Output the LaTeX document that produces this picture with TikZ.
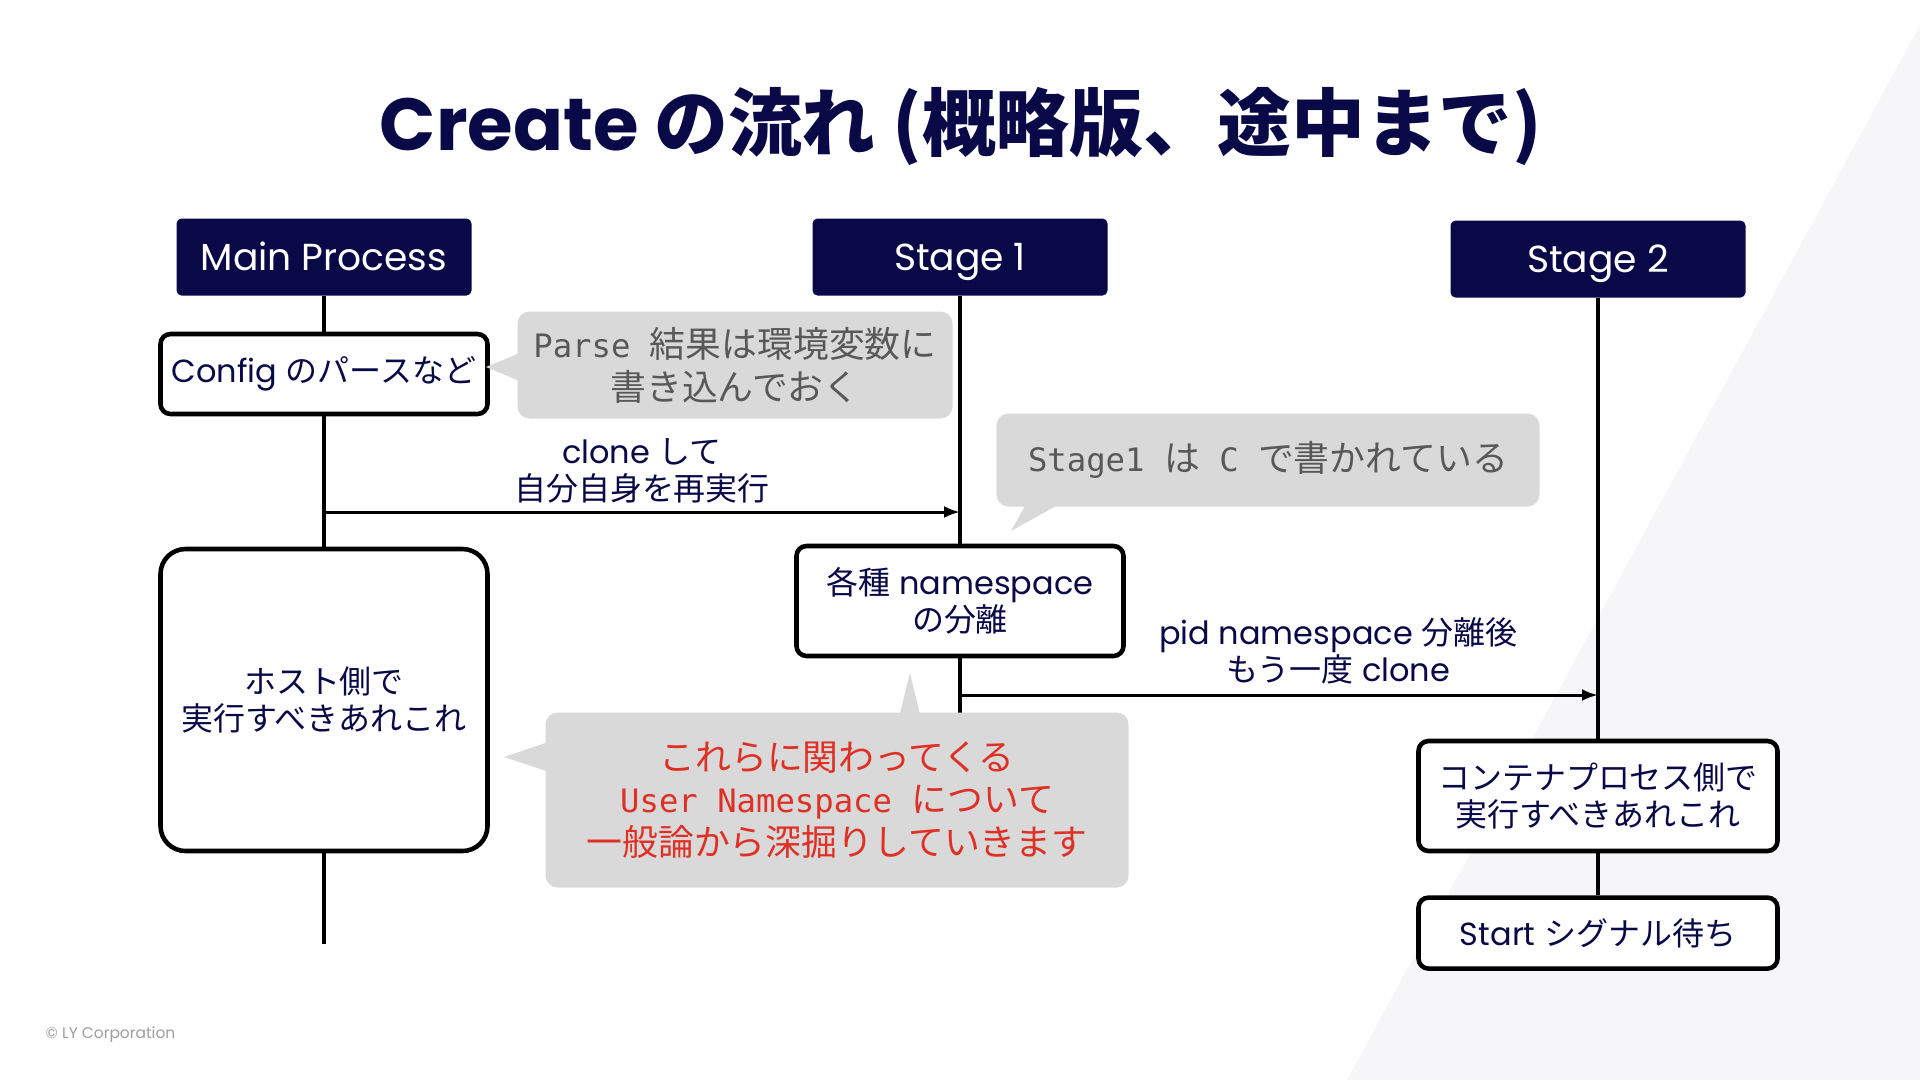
\documentclass[tikz,border=0pt]{standalone}
\usepackage{fontspec}
\setmainfont{Poppins}
\newfontfamily\jpf{Noto Sans CJK JP}
\newfontfamily\monof[Scale=0.9]{DejaVu Sans Mono}
\usepackage{xcolor}
\usetikzlibrary{arrows.meta,positioning}
\definecolor{navy}{RGB}{9,9,72}
\definecolor{notegray}{RGB}{217,217,217}
\definecolor{notetext}{RGB}{88,88,88}
\definecolor{alertred}{RGB}{222,48,36}
\definecolor{bgshade}{RGB}{246,246,248}

\begin{document}
\begin{tikzpicture}[x=0.1mm,y=-0.1mm,
 hd/.style={fill=navy,text=white,rounded corners=0.5mm,minimum width=29.5mm,minimum height=7.7mm,inner sep=0pt,text height=7.4pt,text depth=0pt,font=\fontsize{10.7}{13}\selectfont},
 b/.style={draw=black,line width=1.3pt,rounded corners=1mm,fill=white,text=navy,align=center,minimum width=32.7mm,inner sep=0pt,font=\fontsize{9.1}{10.4}\selectfont},
 nt/.style={fill=notegray,rounded corners=1.2mm,align=center,inner sep=0pt,text=notetext,font=\fontsize{10.2}{12.2}\selectfont},
 lbl/.style={text=navy,align=center,inner sep=0pt,font=\fontsize{9.1}{10.6}\selectfont},
 ll/.style={line width=1.1pt},
 ar/.style={-{Latex[length=1.6mm,width=1.2mm]},line width=0.85pt}]
\useasboundingbox (0,0) rectangle (1920,1080);
\fill[white] (0,0) rectangle (1920,1080);
\fill[bgshade] (1920,25) -- (1920,1080) -- (1347,1080) -- cycle;
% title and footer
\node[text=navy,font=\fontsize{21}{24}\selectfont\bfseries] (ttl) at (961,126) {Create {\jpf の流れ (概略版、途中まで)}};
\node[anchor=west,text=black!38,inner sep=0pt,font=\fontsize{4.4}{5}\selectfont] (ft) at (45,1035) {© LY Corporation};
% lifeline heads
\node[hd] (hM) at (324,257) {Main Process};
\node[hd] (hS1) at (960,257) {Stage 1};
\node[hd] (hS2) at (1598,259) {Stage 2};
% steps
\node[b,minimum height=8mm] (cfg) at (324,374) {Config {\jpf のパースなど}};
\node[b,minimum height=30.2mm,rounded corners=2.5mm] (host) at (324,700) {{\jpf ホスト側で}\\{\jpf 実行すべきあれこれ}};
\node[b,minimum height=11mm] (ns) at (960,601) {{\jpf 各種} namespace\\{\jpf の分離}};
\node[b,minimum width=35.9mm,minimum height=11mm] (ctr) at (1598,796) {{\jpf コンテナプロセス側で}\\{\jpf 実行すべきあれこれ}};
\node[b,minimum width=35.9mm,minimum height=7.1mm,below=4.2mm of ctr] (st) {Start {\jpf シグナル待ち}};
\coordinate (mEnd) at (324,944);
\coordinate (s1End) at (960,720);
\draw[ll] (hM) -- (cfg); \draw[ll] (cfg) -- (host); \draw[ll] (host) -- (mEnd);
\draw[ll] (hS1) -- (ns); \draw[ll] (ns) -- (s1End);
\draw[ll] (hS2) -- (ctr); \draw[ll] (ctr) -- (st);
% messages
\coordinate (c1) at (324,512); \coordinate (c2) at (960,512);
\coordinate (c3) at (960,695); \coordinate (c4) at (1598,695);
\draw[ar] (c1) -- (c2) node[lbl,midway,above=0.7mm] {clone {\jpf して}\\{\jpf 自分自身を再実行}};
\draw[ar] (c3) -- (c4) node[lbl,pos=0.593,above=0.9mm] {pid namespace {\jpf 分離後}\\{\jpf もう一度} clone};
% notes
\coordinate (pTip) at (486,367);
\coordinate (lTip) at (1011,531);
\coordinate (nTipU) at (910,673);
\coordinate (nTipL) at (504,757);
\node[nt,minimum width=43.5mm,minimum height=10.7mm] (pn) at (735,365) {{\monof Parse }{\jpf 結果は環境変数に}\\{\jpf 書き込んでおく}};
\fill[notegray] ([xshift=1mm,yshift=1.5mm]pn.west) -- (pTip) -- ([xshift=1mm,yshift=-1.9mm]pn.west) -- cycle;
\node[nt,minimum width=54.3mm,minimum height=9.3mm] (ln) at (1268,460) {{\monof Stage1 }{\jpf は}{\monof{} C }{\jpf で書かれている}};
\fill[notegray] ([xshift=3.4mm,yshift=1mm]ln.south west) -- (lTip) -- ([xshift=7.6mm,yshift=1mm]ln.south west) -- cycle;
\node[nt,text=alertred,minimum width=58.3mm,minimum height=17.5mm] (nn) at (837,800) {{\jpf これらに関わってくる}\\{\monof User Namespace }{\jpf について}\\{\jpf 一般論から深掘りしていきます}};
\fill[notegray] ([xshift=35.3mm,yshift=-1mm]nn.north west) -- (nTipU) -- ([xshift=37.7mm,yshift=-1mm]nn.north west) -- cycle;
\fill[notegray] ([xshift=1mm,yshift=-2.8mm]nn.north west) -- (nTipL) -- ([xshift=1mm,yshift=-6.2mm]nn.north west) -- cycle;
\end{tikzpicture}
\end{document}
